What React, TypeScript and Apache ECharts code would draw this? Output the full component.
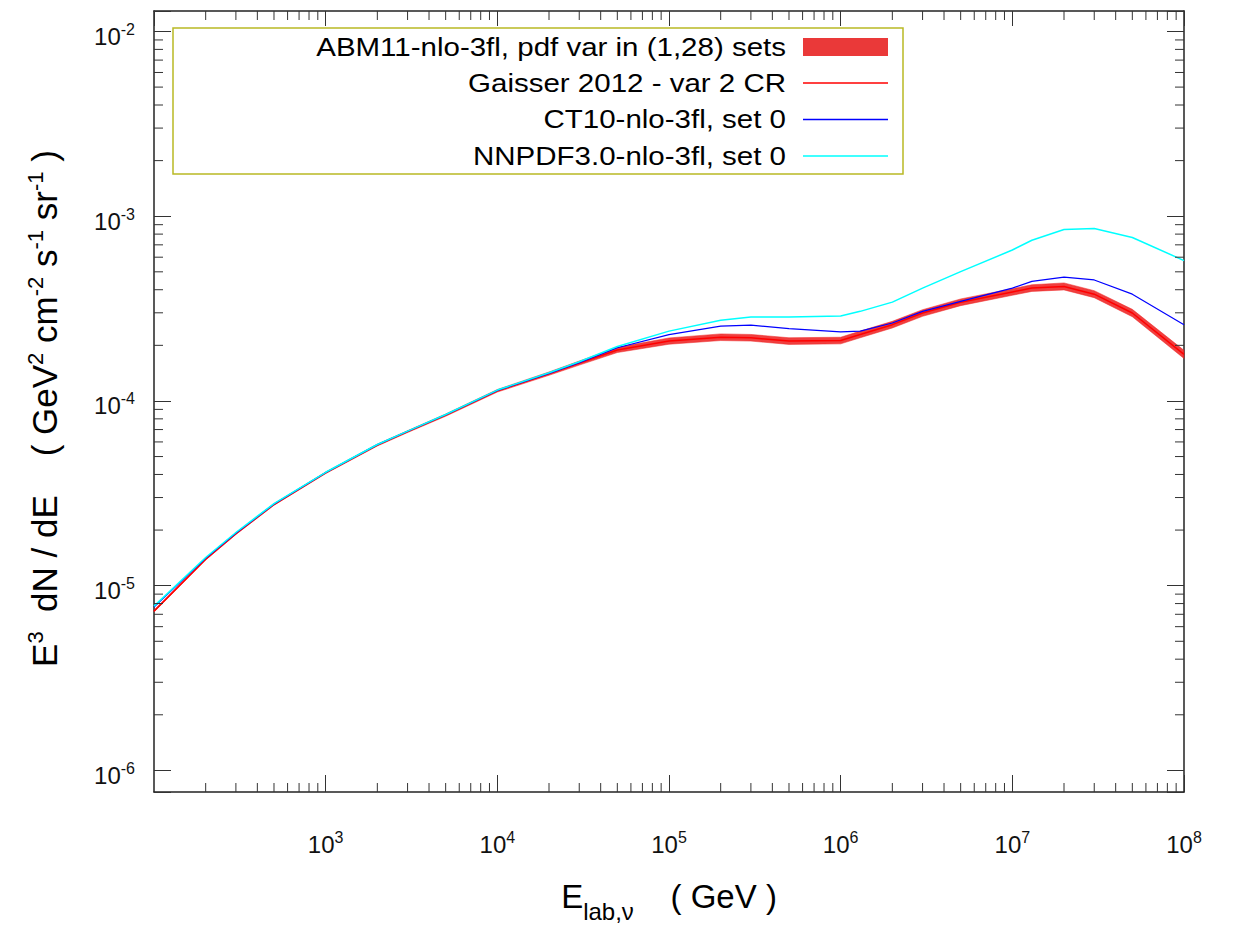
import React, { useEffect, useRef } from "react";
import * as echarts from "echarts";

// ---- data ----
const energy = [1e2, 2e2, 3e2, 5e2, 1e3, 2e3, 3e3, 5e3, 1e4, 2e4, 3e4, 5e4, 1e5, 2e5, 3e5, 5e5, 1e6, 1.3e6, 2e6, 3e6, 5e6, 1e7, 1.3e7, 2e7, 3e7, 5e7, 1e8];

// Gaisser 2012 - var 2 CR (ABM11 central member)
const gaisser = [7.28e-6, 1.39e-5, 1.91e-5, 2.75e-5, 4.08e-5, 5.77e-5, 6.82e-5, 8.38e-5, 1.135e-4, 1.406e-4, 1.603e-4, 1.888e-4, 2.109e-4, 2.213e-4, 2.198e-4, 2.109e-4, 2.123e-4, 2.291e-4, 2.588e-4, 2.992e-4, 3.42e-4, 3.89e-4, 4.083e-4, 4.169e-4, 3.784e-4, 2.992e-4, 1.786e-4];
// ABM11 pdf-variation band (lower / upper edge)
const abmLow = [7.21e-6, 1.377e-5, 1.892e-5, 2.725e-5, 4.043e-5, 5.704e-5, 6.742e-5, 8.265e-5, 1.117e-4, 1.377e-4, 1.563e-4, 1.828e-4, 2.028e-4, 2.123e-4, 2.109e-4, 2.023e-4, 2.037e-4, 2.198e-4, 2.483e-4, 2.871e-4, 3.281e-4, 3.732e-4, 3.917e-4, 3.99e-4, 3.622e-4, 2.857e-4, 1.698e-4];
const abmHigh = [7.35e-6, 1.403e-5, 1.928e-5, 2.775e-5, 4.118e-5, 5.837e-5, 6.899e-5, 8.497e-5, 1.153e-4, 1.435e-4, 1.644e-4, 1.95e-4, 2.193e-4, 2.307e-4, 2.291e-4, 2.198e-4, 2.213e-4, 2.388e-4, 2.698e-4, 3.119e-4, 3.565e-4, 4.055e-4, 4.256e-4, 4.355e-4, 3.953e-4, 3.133e-4, 1.879e-4];
const ct10 = [7.67e-6, 1.41e-5, 1.93e-5, 2.77e-5, 4.1e-5, 5.8e-5, 6.85e-5, 8.42e-5, 1.14e-4, 1.41e-4, 1.61e-4, 1.941e-4, 2.286e-4, 2.541e-4, 2.57e-4, 2.466e-4, 2.366e-4, 2.388e-4, 2.642e-4, 3.055e-4, 3.459e-4, 4.083e-4, 4.436e-4, 4.677e-4, 4.519e-4, 3.784e-4, 2.588e-4];
const nnpdf = [7.75e-6, 1.42e-5, 1.94e-5, 2.78e-5, 4.11e-5, 5.81e-5, 6.87e-5, 8.45e-5, 1.145e-4, 1.42e-4, 1.63e-4, 1.972e-4, 2.388e-4, 2.735e-4, 2.851e-4, 2.851e-4, 2.884e-4, 3.055e-4, 3.428e-4, 4.083e-4, 5.012e-4, 6.561e-4, 7.413e-4, 8.472e-4, 8.57e-4, 7.674e-4, 5.754e-4];

const seriesNames = [
  "ABM11-nlo-3fl, pdf var in (1,28) sets",
  "Gaisser 2012 - var 2 CR",
  "CT10-nlo-3fl, set 0",
  "NNPDF3.0-nlo-3fl, set 0",
];

const xMin = 1e2;
const xMax = 1e8;
const yMin = 7.64e-7;
const yMax = 1.291e-2;

// minor tick positions (2..9 x 10^k)
const xMinorTicks: number[] = [];
for (let k = 2; k < 8; k++) for (let m = 2; m <= 9; m++) xMinorTicks.push(m * Math.pow(10, k));
const yMinorTicks: number[] = [];
for (let k = -6; k < -2; k++) for (let m = 2; m <= 9; m++) yMinorTicks.push(m * Math.pow(10, k));

const FONT = '"Liberation Sans", Arial, Helvetica, sans-serif';

const pairs = (ys: number[]) => energy.map((e, i) => [e, ys[i]]);

const powLabel = (v: number) => {
  const l = Math.log10(v);
  const r = Math.round(l);
  if (Math.abs(l - r) > 1e-6) return "";
  return `10{sup|${r}}`;
};

export default function App() {
  const ref = useRef<HTMLDivElement>(null);
  useEffect(() => {
    if (!ref.current) return;
    const chart = echarts.init(ref.current, undefined, { renderer: "svg" });
    const axisLine = { show: true, lineStyle: { color: "#222", width: 1.5 } };
    const tickStyle = { color: "#333", width: 1 };
    const labelRich = {
      sup: { fontSize: 16, lineHeight: 18, verticalAlign: "top" as const, fontFamily: FONT, color: "#111" },
    };
    const rows = [47.5, 83, 119.5, 156];
    const legendGraphics: any[] = [
      {
        type: "rect",
        shape: { x: 173, y: 28, width: 730, height: 146 },
        style: { fill: "none", stroke: "#b9b925", lineWidth: 1.5 },
      },
    ];
    seriesNames.forEach((n, i) => {
      legendGraphics.push({
        type: "text",
        x: 786,
        y: rows[i],
        scaleX: 1.18,
        style: { text: n, fontSize: 25, fontFamily: FONT, fill: "#000", align: "right", verticalAlign: "middle" },
      });
    });
    legendGraphics.push({
      type: "rect",
      shape: { x: 803, y: 38, width: 85, height: 18 },
      style: { fill: "rgba(232,40,40,0.92)" },
    });
    const lineCols = ["#ff0000", "#0000ff", "#00ffff"];
    [1, 2, 3].forEach((i, j) => {
      legendGraphics.push({
        type: "line",
        shape: { x1: 803, y1: rows[i], x2: 888, y2: rows[i] },
        style: { stroke: lineCols[j], lineWidth: 1.5 },
      });
    });

    chart.setOption({
      animation: false,
      backgroundColor: "#fff",
      grid: { left: 154, top: 11, width: 1030, height: 786, containLabel: false },
      xAxis: [
        {
          type: "log",
          logBase: 10,
          min: xMin,
          max: xMax,
          position: "bottom",
          axisLine,
          axisTick: { show: true, inside: true, length: 17, lineStyle: tickStyle },
          splitLine: { show: false },
          axisLabel: {
            formatter: powLabel,
            showMinLabel: false,
            fontSize: 24,
            fontFamily: FONT,
            color: "#111",
            lineHeight: 30,
            margin: 37,
            rich: labelRich,
          },
          name: "E{sub|lab,ν}    ( GeV )",
          nameLocation: "middle",
          nameGap: 85,
          nameTextStyle: {
            fontSize: 33,
            fontFamily: FONT,
            color: "#000",
            lineHeight: 38,
            rich: {
              sub: { fontSize: 24, lineHeight: 28, verticalAlign: "bottom", fontFamily: FONT, color: "#000", padding: [0, 0, -8, 0] },
            },
          },
        },
        {
          type: "log",
          logBase: 10,
          min: xMin,
          max: xMax,
          position: "top",
          axisLine,
          axisTick: { show: true, inside: true, length: 15, lineStyle: tickStyle },
          axisLabel: { show: false },
          splitLine: { show: false },
        },
      ],
      yAxis: [
        {
          type: "log",
          logBase: 10,
          min: yMin,
          max: yMax,
          position: "left",
          axisLine,
          axisTick: { show: true, inside: true, length: 17, lineStyle: tickStyle },
          splitLine: { show: false },
          axisLabel: {
            formatter: powLabel,
            fontSize: 24,
            fontFamily: FONT,
            color: "#111",
            lineHeight: 30,
            margin: 19,
            padding: [10, 0, 0, 0],
            rich: labelRich,
          },
          name: "E{sup|3}  dN / dE    ( GeV{sup|2} cm{sup|-2} s{sup|-1} sr{sup|-1} )",
          nameLocation: "middle",
          nameRotate: 90,
          nameGap: 90,
          nameTextStyle: {
            fontSize: 35,
            fontFamily: FONT,
            color: "#000",
            lineHeight: 40,
            padding: [0, 14, 0, 0],
            rich: {
              sup: { fontSize: 22, lineHeight: 24, verticalAlign: "top", fontFamily: FONT, color: "#000" },
            },
          },
        },
        {
          type: "log",
          logBase: 10,
          min: yMin,
          max: yMax,
          position: "right",
          axisLine,
          axisTick: { show: true, inside: true, length: 17, lineStyle: tickStyle },
          axisLabel: { show: false },
          splitLine: { show: false },
        },
      ],
      graphic: legendGraphics,
      series: [
        {
          name: seriesNames[0],
          type: "custom",
          silent: true,
          data: energy.map((e, i) => [e, abmLow[i], abmHigh[i]]),
          encode: { x: 0, y: [1, 2] },
          renderItem: (params: any, api: any) => {
            if (params.dataIndex !== 0) return null;
            const upper = energy.map((e, i) => api.coord([e, abmHigh[i]]));
            const lower = energy.map((e, i) => api.coord([e, abmLow[i]])).reverse();
            return {
              type: "polygon",
              shape: { points: upper.concat(lower) },
              style: { fill: "rgba(238,36,36,0.88)", stroke: "rgba(238,36,36,0.5)", lineWidth: 1 },
            };
          },
          z: 2,
        },
        {
          name: seriesNames[1],
          type: "line",
          data: pairs(gaisser),
          symbol: "none",
          lineStyle: { color: "#ff0000", width: 1.5 },
          z: 3,
        },
        {
          name: seriesNames[2],
          type: "line",
          data: pairs(ct10),
          symbol: "none",
          lineStyle: { color: "#0000ff", width: 1.2 },
          z: 4,
        },
        {
          name: seriesNames[3],
          type: "line",
          data: pairs(nnpdf),
          symbol: "none",
          lineStyle: { color: "#00ffff", width: 1.5 },
          z: 5,
        },
        {
          type: "custom",
          silent: true,
          data: xMinorTicks.map((v) => [v, 1e-4]),
          renderItem: (params: any, api: any) => {
            const cs = params.coordSys;
            const x = api.coord([api.value(0), api.value(1)])[0];
            const b = cs.y + cs.height;
            return {
              type: "group",
              children: [
                { type: "line", shape: { x1: x, y1: b, x2: x, y2: b - 9 }, style: { stroke: "#333", lineWidth: 1 } },
                { type: "line", shape: { x1: x, y1: cs.y, x2: x, y2: cs.y + 9 }, style: { stroke: "#333", lineWidth: 1 } },
              ],
            };
          },
          z: 6,
        },
        {
          type: "custom",
          silent: true,
          data: yMinorTicks.map((v) => [1e3, v]),
          renderItem: (params: any, api: any) => {
            const cs = params.coordSys;
            const y = api.coord([api.value(0), api.value(1)])[1];
            const r = cs.x + cs.width;
            return {
              type: "group",
              children: [
                { type: "line", shape: { x1: cs.x, y1: y, x2: cs.x + 9, y2: y }, style: { stroke: "#333", lineWidth: 1 } },
                { type: "line", shape: { x1: r, y1: y, x2: r - 9, y2: y }, style: { stroke: "#333", lineWidth: 1 } },
              ],
            };
          },
          z: 6,
        },
      ],
    });
    return () => chart.dispose();
  }, []);
  return (
    <div
      ref={ref}
      style={{ position: "absolute", left: 0, top: 0, width: 1242, height: 928, background: "#fff" }}
    />
  );
}
